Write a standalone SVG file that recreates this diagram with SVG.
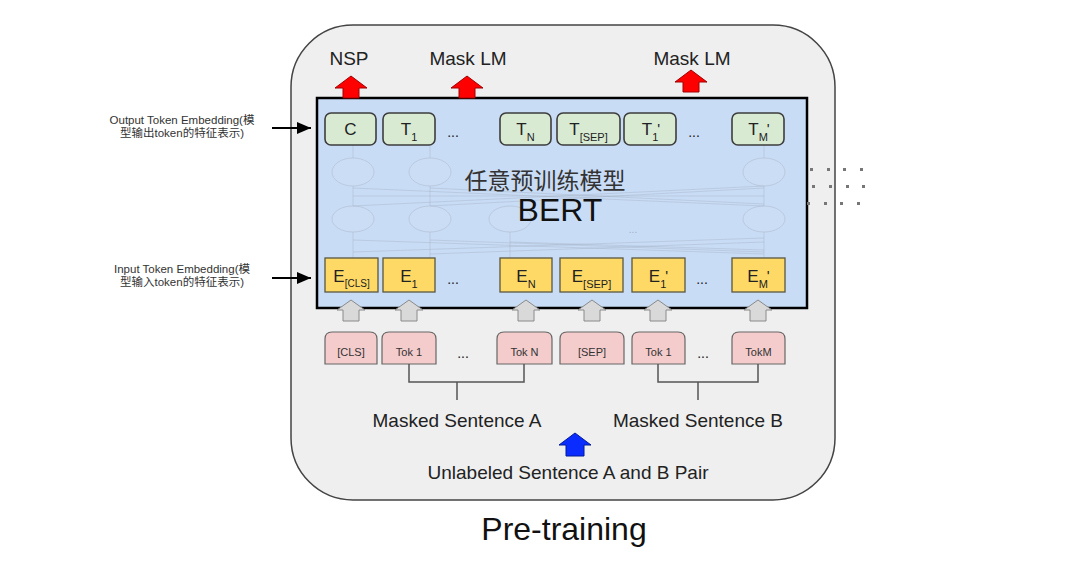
<svg xmlns="http://www.w3.org/2000/svg" width="1080" height="585" viewBox="0 0 1080 585">
<defs>
<style>
.t{font-family:"Liberation Sans",Arial,"Noto Sans CJK SC",sans-serif;fill:#222}
.tb{fill:#d9ead3;stroke:#3d3d3d;stroke-width:1.6}
.eb{fill:#ffd966;stroke:#5a5640;stroke-width:1.3}
.pk{fill:#f4cccc;stroke:#666;stroke-width:1.2}
.ga{fill:#d9d9d9;stroke:#8a8a8a;stroke-width:1}
.ra{fill:#ff0000;stroke:#a00000;stroke-width:1}
.net{fill:none;stroke:#9aa8bb;stroke-width:1;opacity:0.35}
.ell{fill:#cfe0f6;stroke:#a7b3c4;stroke-width:1;opacity:0.45}
.br{fill:none;stroke:#555;stroke-width:1.5}
.dot{fill:#777}
</style>
<path id="garr" d="M0,0 L14,10 L8,10 L8,21 L-8,21 L-8,10 L-14,10 Z"/>
<path id="rarr" d="M0,0 L16,12 L8,12 L8,22 L-8,22 L-8,12 L-16,12 Z"/>
<marker id="ah" viewBox="0 0 14 12" refX="14" refY="6" markerWidth="14" markerHeight="12" markerUnits="userSpaceOnUse" orient="auto">
<path d="M0,0 L14,6 L0,12 Z" fill="#000"/>
</marker>
</defs>
<rect width="1080" height="585" fill="#fff"/>

<g id="outer">
<rect x="291" y="25" width="544" height="475" rx="62" ry="62" fill="#efefef" stroke="#444" stroke-width="1.5"/>
</g>

<g id="bert">
<rect x="317" y="98" width="490" height="210" fill="#c9dcf5" stroke="#000" stroke-width="2.5"/>
<g id="network">
<line class="net" x1="353" y1="145" x2="353" y2="158"/>
<line class="net" x1="430" y1="145" x2="430" y2="158"/>
<line class="net" x1="764" y1="145" x2="764" y2="158"/>
<line class="net" x1="353" y1="186" x2="353" y2="206"/>
<line class="net" x1="430" y1="186" x2="430" y2="206"/>
<line class="net" x1="764" y1="186" x2="764" y2="206"/>
<line class="net" x1="353" y1="232" x2="353" y2="258"/>
<line class="net" x1="430" y1="232" x2="430" y2="258"/>
<line class="net" x1="510" y1="232" x2="510" y2="258"/>
<line class="net" x1="764" y1="232" x2="764" y2="258"/>
<line class="net" x1="353" y1="206" x2="764" y2="186"/>
<line class="net" x1="430" y1="206" x2="764" y2="188"/>
<line class="net" x1="353" y1="188" x2="764" y2="206"/>
<line class="net" x1="430" y1="188" x2="764" y2="204"/>
<line class="net" x1="353" y1="196" x2="764" y2="196"/>
<line class="net" x1="353" y1="252" x2="764" y2="238"/>
<line class="net" x1="430" y1="254" x2="764" y2="242"/>
<line class="net" x1="353" y1="240" x2="764" y2="254"/>
<line class="net" x1="430" y1="240" x2="764" y2="252"/>
<line class="net" x1="510" y1="242" x2="764" y2="250"/>
<ellipse class="ell" cx="353" cy="172" rx="21" ry="14"/>
<ellipse class="ell" cx="430" cy="172" rx="21" ry="14"/>
<ellipse class="ell" cx="764" cy="172" rx="21" ry="14"/>
<ellipse class="ell" cx="353" cy="219" rx="21" ry="13"/>
<ellipse class="ell" cx="430" cy="219" rx="21" ry="13"/>
<ellipse class="ell" cx="510" cy="219" rx="21" ry="13"/>
<ellipse class="ell" cx="764" cy="219" rx="21" ry="13"/>
<text class="t" x="633" y="233" font-size="10" text-anchor="middle" style="fill:#9fb0c6">...</text>
</g>
<text class="t" x="545" y="189" font-size="23" text-anchor="middle" style="fill:#333">任意预训练模型</text>
<text class="t" x="560" y="221" font-size="32" text-anchor="middle" style="fill:#111">BERT</text>
</g>

<g id="out-tokens">
<g id="T-C"><rect class="tb" x="325" y="113" width="51" height="32" rx="6"/><text class="t" x="350.5" y="135" font-size="17" text-anchor="middle">C</text></g>
<g id="T-1"><rect class="tb" x="383" y="113" width="52" height="32" rx="6"/><text class="t" x="409" y="135" font-size="17" text-anchor="middle">T<tspan font-size="11" dy="6">1</tspan></text></g>
<text class="t" x="453" y="137" font-size="14" text-anchor="middle">...</text>
<g id="T-N"><rect class="tb" x="500" y="113" width="51" height="32" rx="6"/><text class="t" x="525.5" y="135" font-size="17" text-anchor="middle">T<tspan font-size="11" dy="6">N</tspan></text></g>
<g id="T-SEP"><rect class="tb" x="557" y="113" width="63" height="32" rx="6"/><text class="t" x="588.5" y="135" font-size="17" text-anchor="middle">T<tspan font-size="11" dy="6">[SEP]</tspan></text></g>
<g id="T-1p"><rect class="tb" x="624" y="113" width="52" height="32" rx="6"/><text class="t" x="651" y="135" font-size="17" text-anchor="middle">T<tspan font-size="11" dy="6">1</tspan><tspan font-size="15" dx="-1" dy="-7">'</tspan></text></g>
<text class="t" x="694" y="137" font-size="14" text-anchor="middle">...</text>
<g id="T-Mp"><rect class="tb" x="732" y="113" width="52" height="32" rx="6"/><text class="t" x="759" y="135" font-size="17" text-anchor="middle">T<tspan font-size="11" dy="6">M</tspan><tspan font-size="15" dx="-1" dy="-7">'</tspan></text></g>
</g>

<g id="in-emb">
<g id="E-CLS"><rect class="eb" x="325" y="258" width="53" height="34"/><text class="t" x="351.5" y="282" font-size="17" text-anchor="middle">E<tspan font-size="10" dy="5">[CLS]</tspan></text></g>
<g id="E-1"><rect class="eb" x="383" y="258" width="52" height="34"/><text class="t" x="409" y="282" font-size="17" text-anchor="middle">E<tspan font-size="11" dy="6">1</tspan></text></g>
<text class="t" x="453" y="284" font-size="14" text-anchor="middle">...</text>
<g id="E-N"><rect class="eb" x="500" y="258" width="52" height="34"/><text class="t" x="526" y="282" font-size="17" text-anchor="middle">E<tspan font-size="11" dy="6">N</tspan></text></g>
<g id="E-SEP"><rect class="eb" x="560" y="258" width="63" height="34"/><text class="t" x="591.5" y="282" font-size="17" text-anchor="middle">E<tspan font-size="11" dy="6">[SEP]</tspan></text></g>
<g id="E-1p"><rect class="eb" x="632" y="258" width="53" height="34"/><text class="t" x="658.5" y="282" font-size="17" text-anchor="middle">E<tspan font-size="11" dy="6">1</tspan><tspan font-size="15" dx="-1" dy="-7">'</tspan></text></g>
<text class="t" x="702" y="284" font-size="14" text-anchor="middle">...</text>
<g id="E-Mp"><rect class="eb" x="732" y="258" width="53" height="34"/><text class="t" x="758.5" y="282" font-size="17" text-anchor="middle">E<tspan font-size="11" dy="6">M</tspan><tspan font-size="15" dx="-1" dy="-7">'</tspan></text></g>
</g>

<g id="in-tokens">
<g id="tok-CLS"><path class="pk" d="M325,339 Q325,332 332,332 L370,332 Q377,332 377,339 L377,364 L325,364 Z"/><text class="t" x="351" y="356" font-size="11" text-anchor="middle" style="fill:#333">[CLS]</text></g>
<g id="tok-A1"><path class="pk" d="M382,339 Q382,332 389,332 L429,332 Q436,332 436,339 L436,364 L382,364 Z"/><text class="t" x="409" y="356" font-size="11" text-anchor="middle" style="fill:#333">Tok 1</text></g>
<text class="t" x="463" y="358" font-size="14" text-anchor="middle">...</text>
<g id="tok-AN"><path class="pk" d="M497,339 Q497,332 504,332 L545,332 Q552,332 552,339 L552,364 L497,364 Z"/><text class="t" x="524.5" y="356" font-size="11" text-anchor="middle" style="fill:#333">Tok N</text></g>
<g id="tok-SEP"><path class="pk" d="M560,339 Q560,332 567,332 L617,332 Q624,332 624,339 L624,364 L560,364 Z"/><text class="t" x="592" y="356" font-size="11" text-anchor="middle" style="fill:#333">[SEP]</text></g>
<g id="tok-B1"><path class="pk" d="M632,339 Q632,332 639,332 L678,332 Q685,332 685,339 L685,364 L632,364 Z"/><text class="t" x="658.5" y="356" font-size="11" text-anchor="middle" style="fill:#333">Tok 1</text></g>
<text class="t" x="703" y="358" font-size="14" text-anchor="middle">...</text>
<g id="tok-BM"><path class="pk" d="M732,339 Q732,332 739,332 L778,332 Q785,332 785,339 L785,364 L732,364 Z"/><text class="t" x="758.5" y="356" font-size="11" text-anchor="middle" style="fill:#333">TokM</text></g>
</g>

<g id="connectors">
<use href="#garr" class="ga" x="351" y="300"/>
<use href="#garr" class="ga" x="409" y="300"/>
<use href="#garr" class="ga" x="526" y="300"/>
<use href="#garr" class="ga" x="592" y="300"/>
<use href="#garr" class="ga" x="658" y="300"/>
<use href="#garr" class="ga" x="758" y="300"/>
<use href="#rarr" class="ra" x="351" y="76"/>
<use href="#rarr" class="ra" x="467" y="76"/>
<use href="#rarr" class="ra" x="691" y="70"/>
<path class="br" d="M409,364 L409,382 L524,382 L524,364 M457,382 L457,400"/>
<path class="br" d="M658,364 L658,382 L758,382 L758,364 M698,382 L698,400"/>
<path d="M575,433 L591,445 L584,445 L584,456 L566,456 L566,445 L559,445 Z" fill="#0a2cff" stroke="#001a99" stroke-width="1"/>
<line x1="272" y1="128" x2="311" y2="128" stroke="#000" stroke-width="2" marker-end="url(#ah)"/>
<line x1="272" y1="278" x2="311" y2="278" stroke="#000" stroke-width="2" marker-end="url(#ah)"/>
</g>

<g id="labels">
<text class="t" x="349" y="65" font-size="19" text-anchor="middle">NSP</text>
<text class="t" x="468" y="65" font-size="19" text-anchor="middle">Mask LM</text>
<text class="t" x="692" y="65" font-size="19" text-anchor="middle">Mask LM</text>
<text class="t" x="457" y="427" font-size="19" text-anchor="middle">Masked Sentence A</text>
<text class="t" x="698" y="427" font-size="19" text-anchor="middle">Masked Sentence B</text>
<text class="t" x="568" y="479" font-size="19" text-anchor="middle">Unlabeled Sentence A and B Pair</text>
<text class="t" x="564" y="540" font-size="32" text-anchor="middle" style="fill:#111">Pre-training</text>
<text class="t" x="182" y="124" font-size="11.5" text-anchor="middle" style="fill:#333">Output Token Embedding(模</text>
<text class="t" x="182" y="137" font-size="11.5" text-anchor="middle" style="fill:#333">型输出token的特征表示)</text>
<text class="t" x="182" y="273" font-size="11.5" text-anchor="middle" style="fill:#333">Input Token Embedding(模</text>
<text class="t" x="182" y="286" font-size="11.5" text-anchor="middle" style="fill:#333">型输入token的特征表示)</text>
</g>

<g id="dots">
<rect class="dot" x="810" y="168" width="3" height="3"/><rect class="dot" x="827" y="168" width="3" height="3"/><rect class="dot" x="843" y="168" width="3" height="3"/><rect class="dot" x="860" y="168" width="3" height="3"/>
<rect class="dot" x="812" y="185" width="3" height="3"/><rect class="dot" x="829" y="185" width="3" height="3"/><rect class="dot" x="846" y="185" width="3" height="3"/><rect class="dot" x="862" y="185" width="3" height="3"/>
<rect class="dot" x="807" y="202" width="3" height="3"/><rect class="dot" x="824" y="202" width="3" height="3"/><rect class="dot" x="840" y="202" width="3" height="3"/><rect class="dot" x="857" y="202" width="3" height="3"/>
</g>
</svg>
